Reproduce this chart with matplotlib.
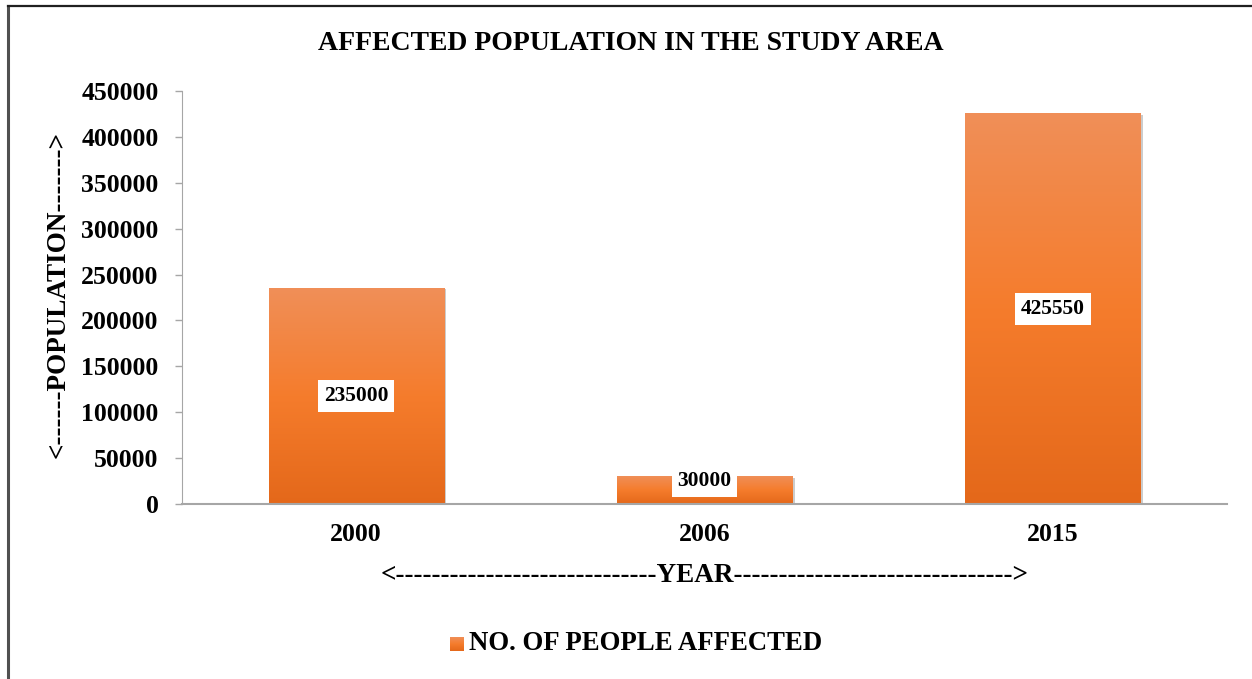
import matplotlib
matplotlib.use("Agg")
import matplotlib.pyplot as plt
import numpy as np
from matplotlib.colors import LinearSegmentedColormap
from matplotlib.patches import Rectangle

years = ["2000", "2006", "2015"]
affected = [235000, 30000, 425550]
yticks = [0, 50000, 100000, 150000, 200000, 250000, 300000, 350000, 400000, 450000]
title = "AFFECTED POPULATION IN THE STUDY AREA"
series_name = "NO. OF PEOPLE AFFECTED"

plt.rcParams['font.family'] = ['Liberation Serif', 'DejaVu Serif']
plt.rcParams['font.weight'] = 'bold'

W, H = 1252, 679
fig = plt.figure(figsize=(W/100, H/100), dpi=100)
ax = fig.add_axes([182/W, 1-504/H, (1227-182)/W, (504-91)/H])

x = np.arange(len(years))
bw = 0.503
cmap = LinearSegmentedColormap.from_list("og", ["#E4681A", "#F57C2C", "#F08F58"])
grad = np.linspace(0, 1, 256).reshape(-1, 1)

bars = ax.bar(x, affected, width=bw, color="none", edgecolor="none", zorder=3)
for b in bars:
    x0, y0, w, h = b.get_x(), b.get_y(), b.get_width(), b.get_height()
    sh = Rectangle((x0 + 0.007, y0), w, h - 1200, facecolor="#8f8f8f", alpha=0.45,
                   edgecolor="none", zorder=2)
    ax.add_patch(sh)
    im = ax.imshow(grad, extent=[x0, x0 + w, y0, y0 + h], origin="lower",
                   cmap=cmap, aspect="auto", zorder=3)
    clip = Rectangle((x0, y0), w, h, transform=ax.transData, facecolor="none", edgecolor="none")
    ax.add_patch(clip)
    im.set_clip_path(clip)

for xi, v in zip(x, affected):
    ypos = max(v / 2, 25000)
    ax.text(xi, ypos, f"{v}", ha="center", va="center", fontsize=15.5, fontweight="bold",
            zorder=5, bbox=dict(boxstyle="square,pad=0.27", facecolor="white", edgecolor="none"))

ax.set_xlim(-0.5, len(years) - 0.5)
ax.set_ylim(0, 450000)
ax.set_yticks(yticks)
ax.set_yticklabels([str(t) for t in yticks], fontsize=18.5, fontweight="bold")
ax.set_xticks(x)
ax.set_xticklabels(years, fontsize=18.5, fontweight="bold")
ax.tick_params(axis="y", length=5, color="#A6A6A6", width=1, pad=12)
ax.tick_params(axis="x", length=0, pad=14)
for s in ["top", "right"]:
    ax.spines[s].set_visible(False)
ax.spines["left"].set_color("#A6A6A6")
ax.spines["bottom"].set_color("#A6A6A6")
ax.spines["bottom"].set_linewidth(1.5)
ax.spines["bottom"].set_zorder(4)

fig.text(631/W, 1-44/H, title, ha="center", va="center", fontsize=20, fontweight="bold")
fig.text(58/W, 1-295/H, "<------POPULATION------->", rotation=90, ha="center", va="center",
         fontsize=19.5, fontweight="bold")
fig.text(705/W, 1-575/H, "<" + "-" * 29 + "YEAR" + "-" * 31 + ">",
         ha="center", va="center", fontsize=19.5, fontweight="bold")

# legend
lax = fig.add_axes([450/W, 1-651/H, 14/W, 14/H])
lax.imshow(grad, extent=[0, 1, 0, 1], origin="lower", cmap=cmap, aspect="auto")
lax.set_axis_off()
fig.text(469/W, 1-643/H, series_name, ha="left", va="center", fontsize=19.3, fontweight="bold")

# outer frame
fig.add_artist(plt.Line2D([8/W, 8/W], [0, 1-6/H], transform=fig.transFigure, color="#505050", lw=2.2))
fig.add_artist(plt.Line2D([8/W, 1], [1-6/H, 1-6/H], transform=fig.transFigure, color="#202020", lw=1.6))

fig.savefig("out.png", dpi=100)
